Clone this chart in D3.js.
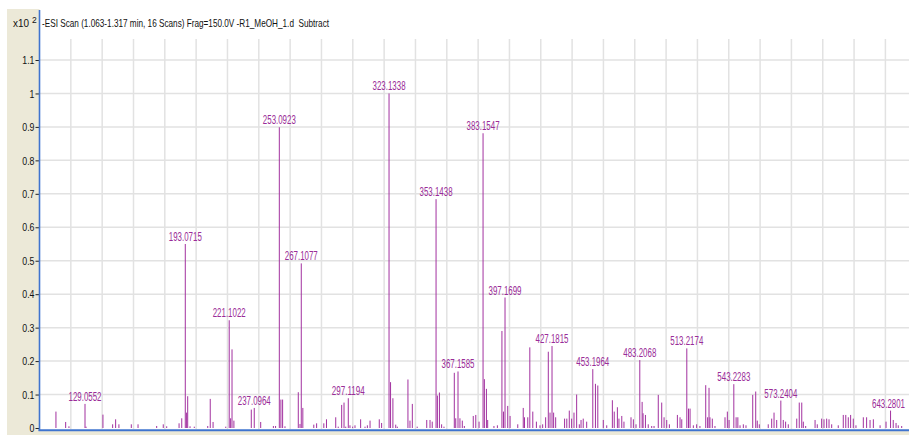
<!DOCTYPE html>
<html>
<head>
<meta charset="utf-8">
<script src="https://cdn.jsdelivr.net/npm/d3@7"></script>
<style>
	body { margin: 0; background: #fff; }
	svg { display: block; }
</style>
</head>
<body>
<svg id="chart"></svg>
<script>
// labelled peaks (m/z, intensity x10^2)
const labeledMz = [129.0552, 193.0715, 221.1022, 237.0964, 253.0923, 267.1077, 297.1194, 323.1338, 353.1438,
	367.1585, 383.1547, 397.1699, 427.1815, 453.1964, 483.2068, 513.2174, 543.2283, 573.2404, 643.2801];
const labeledInt = [0.072, 0.55, 0.322, 0.06, 0.899, 0.492, 0.089, 1.0, 0.684,
	0.169, 0.881, 0.39, 0.245, 0.176, 0.203, 0.238, 0.131, 0.082, 0.052];

// unlabelled peaks
const minorMz = [110.5, 116.7, 118.8, 129.7, 140.5, 146.7, 148.6, 150.7, 158.6, 162.9, 174.8, 179.0, 181.2, 189.1, 190.8,
	193.9, 194.6, 196.1, 198.8, 207.4, 209.0, 210.8, 218.9, 222.0, 222.9, 224.1, 235.2, 241.2, 249.3, 250.7,
	254.1, 255.2, 256.7, 265.2, 266.3, 268.1, 275.1, 276.9, 281.5, 283.2, 289.1, 290.7, 292.9, 294.4, 295.5,
	298.2, 299.9, 301.4, 305.0, 307.8, 309.3, 311.0, 316.9, 318.4, 324.1, 325.6, 327.4, 328.4, 335.2, 336.5,
	338.0, 341.1, 347.2, 349.3, 350.7, 354.0, 355.3, 356.7, 358.2, 364.8, 365.7, 368.4, 369.9, 371.2, 376.9,
	378.5, 380.6, 384.0, 385.3, 386.1, 390.1, 392.3, 395.2, 396.2, 398.9, 400.4, 405.3, 408.8, 409.6, 411.7,
	413.0, 414.9, 417.2, 419.5, 421.2, 423.1, 424.8, 425.9, 428.2, 429.5, 435.2, 436.6, 438.2, 439.7, 441.2,
	442.9, 444.6, 445.7, 447.1, 449.3, 454.9, 456.4, 459.9, 462.1, 465.7, 466.9, 468.9, 469.9, 471.7, 473.1,
	477.6, 479.1, 480.8, 484.7, 485.3, 486.8, 488.6, 490.8, 492.3, 495.0, 497.2, 498.7, 500.4, 502.1, 507.2,
	508.9, 510.0, 514.3, 515.3, 517.4, 519.5, 521.6, 525.3, 526.5, 527.4, 528.0, 529.5, 531.2, 537.6, 539.1,
	540.2, 544.7, 545.8, 547.2, 549.3, 551.0, 555.3, 557.2, 558.2, 559.5, 565.2, 567.4, 568.9, 570.6, 574.8,
	576.3, 578.0, 583.4, 585.0, 586.6, 587.6, 589.1, 595.1, 596.5, 599.3, 600.8, 602.5, 604.0, 605.7, 609.9,
	613.1, 614.7, 616.3, 617.8, 619.5, 621.2, 625.9, 628.0, 630.2, 632.3, 636.6, 640.4, 645.0, 646.8, 648.2, 650.4];
const minorInt = [0.049, 0.018, 0.005, 0.004, 0.040, 0.011, 0.026, 0.011, 0.011, 0.011, 0.006, 0.011, 0.005, 0.014, 0.029,
	0.046, 0.095, 0.005, 0.004, 0.006, 0.087, 0.018, 0.004, 0.029, 0.235, 0.022, 0.055, 0.018, 0.006, 0.006,
	0.085, 0.085, 0.005, 0.107, 0.012, 0.060, 0.010, 0.014, 0.014, 0.026, 0.032, 0.004, 0.069, 0.076, 0.004,
	0.008, 0.004, 0.008, 0.026, 0.004, 0.008, 0.022, 0.026, 0.015, 0.137, 0.089, 0.010, 0.004, 0.145, 0.022,
	0.072, 0.004, 0.024, 0.024, 0.019, 0.097, 0.106, 0.011, 0.004, 0.165, 0.029, 0.029, 0.022, 0.006, 0.036,
	0.039, 0.019, 0.146, 0.117, 0.024, 0.006, 0.008, 0.290, 0.049, 0.066, 0.036, 0.011, 0.060, 0.032, 0.032,
	0.241, 0.049, 0.019, 0.008, 0.011, 0.032, 0.228, 0.046, 0.046, 0.032, 0.028, 0.028, 0.052, 0.028, 0.046,
	0.100, 0.011, 0.024, 0.028, 0.019, 0.132, 0.127, 0.024, 0.008, 0.083, 0.049, 0.062, 0.028, 0.036, 0.019,
	0.032, 0.026, 0.011, 0.078, 0.044, 0.039, 0.011, 0.006, 0.006, 0.099, 0.076, 0.032, 0.024, 0.011, 0.039,
	0.032, 0.026, 0.058, 0.058, 0.008, 0.011, 0.006, 0.128, 0.032, 0.120, 0.032, 0.028, 0.006, 0.032, 0.049,
	0.024, 0.032, 0.032, 0.008, 0.011, 0.008, 0.099, 0.109, 0.022, 0.011, 0.011, 0.028, 0.046, 0.024, 0.024,
	0.019, 0.011, 0.028, 0.076, 0.076, 0.019, 0.006, 0.024, 0.011, 0.028, 0.026, 0.028, 0.026, 0.011, 0.008,
	0.039, 0.039, 0.032, 0.039, 0.028, 0.008, 0.032, 0.032, 0.024, 0.026, 0.008, 0.019, 0.024, 0.015, 0.008, 0.006];

const yTicks = [0, 0.1, 0.2, 0.3, 0.4, 0.5, 0.6, 0.7, 0.8, 0.9, 1.0, 1.1];
const yTickLabels = ["0", "0.1", "0.2", "0.3", "0.4", "0.5", "0.6", "0.7", "0.8", "0.9", "1", "1.1"];
const xGrid = d3.range(120, 655, 20);
const titleText = "-ESI Scan (1.063-1.317 min, 16 Scans) Frag=150.0V -R1_MeOH_1.d  Subtract";

const W = 909, H = 435;
const plot = { left: 39.5, right: 909, top: 39, bottom: 429 };
const font = "'Liberation Sans', Arial, sans-serif";
const peakColour = "#a2319f";
const labelColour = "#9a2c98";
const axisBlue = "#3f74cf";
const panel = "#ece9d8";
const labelWidth = 33;

const x = d3.scaleLinear().domain([100, 655]).range([plot.left, plot.left + 555 * 1.5665]);
const y = d3.scaleLinear().domain([0, 1.1]).range([428, 60]);

// narrow-font look: squeeze the glyphs to a width per character
const narrowWidth = s => s.split("").reduce((w, c) => w + (c === "." ? 2.4 : 4.9), 0);

const svg = d3.select("#chart").attr("width", W).attr("height", H);

// window background panels
svg.append("rect").attr("x", 7).attr("y", 9).attr("width", W - 7).attr("height", H - 9).attr("fill", panel);
svg.append("rect").attr("x", plot.left).attr("y", 9).attr("width", W - plot.left).attr("height", 421).attr("fill", "#fff");

// grid
svg.append("g")
	.selectAll("line")
	.data(xGrid)
	.join("line")
	.attr("x1", d => x(d)).attr("x2", d => x(d))
	.attr("y1", plot.top).attr("y2", plot.bottom)
	.attr("stroke", "#e2e2e2").attr("stroke-width", 1.5);

svg.append("g")
	.selectAll("line")
	.data(yTicks.slice(1))
	.join("line")
	.attr("x1", plot.left).attr("x2", plot.right)
	.attr("y1", d => y(d)).attr("y2", d => y(d))
	.attr("stroke", "#e2e2e2").attr("stroke-width", 1.5);

// y axis
const yAxis = svg.append("g")
	.attr("transform", "translate(" + plot.left + ",0)")
	.call(d3.axisLeft(y).tickValues(yTicks).tickSize(4).tickPadding(1)
		.tickFormat((d, i) => yTickLabels[i]));
yAxis.select(".domain").remove();
yAxis.selectAll(".tick line").attr("stroke", "#222");
yAxis.selectAll(".tick text")
	.attr("font-family", font).attr("font-size", 11.5).attr("fill", "#111")
	.attr("textLength", (d, i) => narrowWidth(yTickLabels[i]))
	.attr("lengthAdjust", "spacingAndGlyphs");

// peaks
svg.append("g")
	.attr("stroke", peakColour).attr("stroke-width", 1)
	.selectAll("line")
	.data(minorMz.map((m, i) => [m, minorInt[i]]))
	.join("line")
	.attr("x1", d => x(d[0])).attr("x2", d => x(d[0]))
	.attr("y1", y(0)).attr("y2", d => y(d[1]));

const labeled = labeledMz.map((m, i) => [m, labeledInt[i]]);
svg.append("g")
	.attr("stroke", peakColour).attr("stroke-width", 1)
	.selectAll("line")
	.data(labeled)
	.join("line")
	.attr("x1", d => x(d[0])).attr("x2", d => x(d[0]))
	.attr("y1", y(0)).attr("y2", d => y(d[1]));

// peak labels, squeezed horizontally with a transform so boxes stay true
svg.append("g")
	.selectAll("text")
	.data(labeled)
	.join("text")
	.attr("text-anchor", "middle")
	.attr("font-family", font).attr("font-size", 12.5)
	.attr("fill", labelColour)
	.text(d => d[0].toFixed(4))
	.attr("transform", function(d) {
		let sx = labelWidth / this.getComputedTextLength();
		let cx = Math.min(x(d[0]), W - 4 - labelWidth / 2);
		return "translate(" + cx + "," + (y(d[1]) - 3) + ") scale(" + sx + ",1)";
	});

// axis lines
svg.append("line")
	.attr("x1", plot.left).attr("x2", plot.left).attr("y1", 10).attr("y2", 431)
	.attr("stroke", axisBlue).attr("stroke-width", 1.6);
svg.append("line")
	.attr("x1", plot.left - 1).attr("x2", plot.right).attr("y1", 430.2).attr("y2", 430.2)
	.attr("stroke", axisBlue).attr("stroke-width", 2);

// header
svg.append("text")
	.attr("x", 13).attr("y", 27)
	.attr("font-family", font).attr("font-size", 11.5).attr("fill", "#111")
	.attr("textLength", 16).attr("lengthAdjust", "spacingAndGlyphs")
	.text("x10");
svg.append("text")
	.attr("x", 32).attr("y", 23)
	.attr("font-family", font).attr("font-size", 8.5).attr("fill", "#111")
	.text("2");

svg.append("text")
	.attr("x", 42).attr("y", 27)
	.attr("font-family", font).attr("font-size", 11.5).attr("fill", "#111")
	.attr("textLength", 287).attr("lengthAdjust", "spacingAndGlyphs")
	.style("white-space", "pre")
	.text(titleText);
</script>
</body>
</html>
